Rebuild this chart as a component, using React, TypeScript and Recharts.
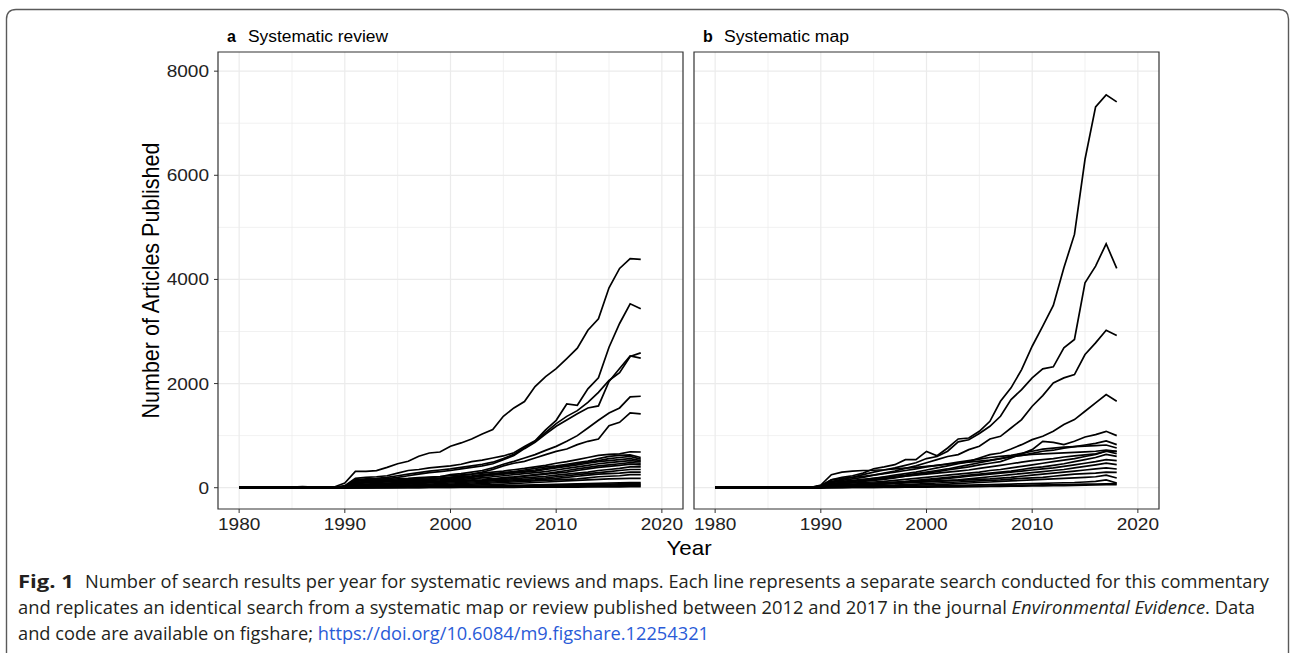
import React from 'react';
import { LineChart, Line, XAxis, YAxis, CartesianGrid, ReferenceArea } from 'recharts';

// ---------- categories ----------
const years = [
  1980, 1981, 1982, 1983, 1984, 1985, 1986, 1987, 1988, 1989,
  1990, 1991, 1992, 1993, 1994, 1995, 1996, 1997, 1998, 1999,
  2000, 2001, 2002, 2003, 2004, 2005, 2006, 2007, 2008, 2009,
  2010, 2011, 2012, 2013, 2014, 2015, 2016, 2017, 2018,
];

const xTicks = [1980, 1990, 2000, 2010, 2020];
const xMinor = [1985, 1995, 2005, 2015];
const yTicks = [0, 2000, 4000, 6000, 8000];
const yMinor = [1000, 3000, 5000, 7000];

// ---------- panel a: systematic reviews ----------
const review01 = [0,0,0,0,2,10,20,12,8,15, 90,314,314,327,391,461,507,603,667,686, 795,860,936,1032,1115,1372,1532,1655,1942,2135, 2288,2480,2679,3025,3244,3840,4211,4398,4385];
const review02 = [0,0,0,0,0,0,0,0,0,0, 40,180,200,210,230,280,330,350,380,400, 420,450,500,530,570,610,670,790,900,1110, 1294,1609,1583,1898,2109,2698,3154,3532,3436];
const review03 = [0,0,0,0,0,0,0,0,0,0, 30,150,170,180,200,230,260,290,320,340, 360,390,420,450,490,560,640,770,890,1060, 1230,1370,1480,1640,1830,2060,2210,2520,2590];
const review04 = [0,0,0,0,0,0,0,0,0,0, 20,130,150,160,175,200,230,260,290,310, 330,360,390,420,460,540,620,750,870,1030, 1180,1300,1420,1530,1570,2040,2290,2530,2490];
const review05 = [0,0,0,0,0,0,0,0,0,0, 10,100,120,130,140,150,165,180,195,210, 250,270,300,330,380,450,506,570,635,717, 794,891,1000,1147,1295,1436,1532,1745,1756];
const review06 = [0,0,0,0,0,0,0,0,0,0, 10,90,100,110,120,130,140,150,165,180, 200,230,260,300,350,420,470,506,570,635, 698,743,827,891,936,1192,1256,1436,1417];
const review07 = [0,0,0,0,0,0,0,0,0,0, 20,120,140,150,160,170,180,195,205,215, 230,245,260,280,300,320,345,370,400,430, 470,500,540,580,620,640,650,690,686];
const review08 = [0,0,0,0,0,0,0,0,0,0, 10,100,110,120,130,140,150,160,170,185, 200,215,230,250,270,290,310,340,370,400, 420,450,480,510,560,600,620,630,580];
const review09 = [0,0,0,0,0,0,0,0,0,0, 15,80,90,100,110,120,130,140,155,170, 185,200,215,235,255,275,300,320,340,370, 400,430,460,490,520,560,580,600,550];
const review10 = [0,0,0,0,0,0,0,0,0,0, 5,60,70,80,90,100,115,125,140,150, 165,180,200,220,240,260,280,300,320,350, 380,410,440,470,500,520,540,560,520];
const review11 = [0,0,0,0,0,0,0,0,0,0, 5,50,60,70,80,90,100,110,120,130, 145,160,175,190,210,230,250,270,290,310, 340,370,400,430,460,480,500,520,500];
const review12 = [0,0,0,0,0,0,0,0,0,0, 5,40,50,60,70,80,90,100,110,120, 130,140,150,200,170,195,210,230,250,270, 300,330,360,390,420,440,460,480,470];
const review13 = [0,0,0,0,0,0,0,0,0,0, 0,30,40,50,60,70,80,90,100,110, 120,130,140,150,165,180,200,220,240,260, 280,300,330,360,390,410,430,450,440];
const review14 = [0,0,0,0,0,0,0,0,0,0, 0,20,30,40,50,60,70,80,90,100, 110,120,130,140,150,160,175,190,205,220, 240,260,280,300,330,350,370,400,400];
const review15 = [0,0,0,0,0,0,0,0,0,0, 0,20,25,30,35,40,50,60,70,80, 90,100,110,120,130,140,150,160,175,190, 210,230,250,270,290,310,330,350,350];
const review16 = [0,0,0,0,0,0,0,0,0,0, 0,10,15,20,25,30,35,40,50,60, 70,80,90,100,110,120,130,140,150,165, 180,200,220,240,260,270,280,300,300];
const review17 = [0,0,0,0,0,0,0,0,0,0, 0,10,10,15,20,25,30,35,40,45, 50,60,70,80,90,100,110,120,130,140, 150,160,170,190,210,220,230,250,250];
const review18 = [0,0,0,0,0,0,0,0,0,0, 0,5,5,10,10,15,20,25,30,35, 40,45,50,55,60,70,80,90,100,110, 120,130,140,150,160,170,175,180,180];
const review19 = [0,0,0,0,0,0,0,0,0,0, 0,5,5,5,10,10,10,15,15,20, 20,25,30,30,35,40,45,50,55,60, 65,70,75,80,85,90,95,100,100];
const review20 = [0,0,0,0,0,0,0,0,0,0, 0,0,5,5,5,5,10,10,10,15, 15,20,20,25,25,30,30,35,40,45, 50,55,60,65,70,70,75,80,80];
const review21 = [0,0,0,0,0,0,0,0,0,0, 0,0,0,5,5,5,5,5,10,10, 10,10,15,15,15,20,20,25,25,30, 30,35,35,40,45,50,55,60,60];
const review22 = [0,0,0,0,0,0,0,0,0,0, 0,0,0,0,0,5,5,5,5,5, 5,10,10,10,10,10,15,15,15,20, 20,20,25,25,30,30,35,40,40];
const review23 = [0,0,0,0,0,0,0,0,0,0, 0,0,0,0,0,0,0,0,5,5, 5,5,5,5,5,5,5,10,10,10, 10,10,10,15,15,15,15,20,20];

// ---------- panel b: systematic maps ----------
const map01 = [0,0,0,0,0,5,10,5,0,5, 40,150,200,230,280,365,400,442,538,538, 698,615,763,936,955,1083,1275,1660,1917,2269, 2717,3102,3500,4224,4865,6308,7314,7545,7410];
const map02 = [0,0,0,0,0,0,0,0,0,0, 30,120,160,200,250,300,340,380,430,480, 560,600,700,880,920,1040,1179,1372,1692,1885, 2109,2282,2321,2686,2846,3936,4256,4685,4211];
const map03 = [0,0,0,0,0,0,0,0,0,0, 30,110,140,170,200,240,280,320,370,420, 480,540,600,635,731,795,936,987,1147,1308, 1564,1769,2013,2109,2173,2558,2782,3025,2923];
const map04 = [0,0,0,0,0,0,0,0,0,0, 20,80,100,120,150,180,210,240,270,300, 340,380,420,460,500,570,635,667,744,827, 923,987,1083,1212,1308,1468,1628,1788,1660];
const map05 = [0,0,0,0,0,0,0,0,0,0, 10,60,80,100,120,140,160,190,220,250, 280,310,340,370,400,440,470,500,570,650, 731,891,871,827,891,974,1019,1083,1000];
const map06 = [0,0,0,0,0,0,0,0,0,0, 50,250,300,320,330,335,345,360,375,390, 410,430,450,470,490,510,530,560,590,620, 660,700,720,760,790,820,850,900,827];
const map07 = [0,0,0,0,0,0,0,0,0,0, 30,150,180,200,220,240,270,300,330,360, 400,430,460,490,520,550,580,600,620,660, 700,740,760,780,790,800,810,820,763];
const map08 = [0,0,0,0,0,0,0,0,0,0, 20,100,120,140,160,180,200,220,240,270, 300,330,360,400,440,480,520,560,600,620, 640,650,660,670,680,690,700,720,699];
const map09 = [0,0,0,0,0,0,0,0,0,0, 10,80,100,120,140,160,180,200,220,240, 260,280,300,320,340,370,400,430,460,490, 520,540,560,590,610,630,650,700,654];
const map10 = [0,0,0,0,0,0,0,0,0,0, 10,60,80,90,100,110,120,140,160,180, 200,220,240,260,280,300,330,350,380,410, 440,470,500,530,560,600,640,700,700];
const map11 = [0,0,0,0,0,0,0,0,0,0, 5,50,60,70,80,90,100,110,120,140, 160,180,200,220,240,260,280,300,320,350, 380,400,430,460,500,540,580,640,603];
const map12 = [0,0,0,0,0,0,0,0,0,0, 5,40,50,60,70,80,90,100,110,120, 140,160,180,200,220,240,260,280,300,320, 340,360,380,410,440,470,500,540,519];
const map13 = [0,0,0,0,0,0,0,0,0,0, 5,30,40,50,60,70,80,90,100,110, 120,130,140,150,170,190,210,230,250,270, 290,310,330,350,380,410,440,470,442];
const map14 = [0,0,0,0,0,0,0,0,0,0, 0,20,30,40,50,60,70,80,90,100, 110,120,130,140,150,160,170,185,200,220, 240,260,280,300,320,340,360,380,359];
const map15 = [0,0,0,0,0,0,0,0,0,0, 0,20,25,30,35,40,45,50,60,70, 80,90,100,110,120,130,140,150,165,180, 190,200,220,240,260,270,280,300,295];
const map16 = [0,0,0,0,0,0,0,0,0,0, 0,10,15,20,25,30,35,40,45,50, 55,60,70,80,90,100,110,120,130,140, 150,160,170,180,190,200,210,240,186];
const map17 = [0,0,0,0,0,0,0,0,0,0, 0,5,5,10,10,15,15,20,20,25, 30,35,40,45,50,55,60,65,70,75, 80,85,90,95,100,110,120,150,90];
const map18 = [0,0,0,0,0,0,0,0,0,0, 0,0,5,5,5,5,10,10,10,15, 15,20,20,25,25,30,30,35,40,45, 50,55,60,60,65,70,70,75,77];
const map19 = [0,0,0,0,0,0,0,0,0,0, 0,0,0,5,5,5,5,5,10,10, 10,15,15,15,20,20,25,25,30,30, 35,35,40,40,45,50,55,60,60];

const reviewSeries = [review01, review02, review03, review04, review05, review06, review07, review08, review09, review10, review11, review12, review13, review14, review15, review16, review17, review18, review19, review20, review21, review22, review23];
const mapSeries = [map01, map02, map03, map04, map05, map06, map07, map08, map09, map10, map11, map12, map13, map14, map15, map16, map17, map18, map19];

function buildTable(series: number[][]) {
  return years.map((yr, i) => {
    const row: Record<string, number> = { year: yr };
    series.forEach((s, k) => { row['s' + k] = s[i]; });
    return row;
  });
}

const reviewData = buildTable(reviewSeries);
const mapData = buildTable(mapSeries);

const X_DOMAIN: [number, number] = [1978, 2022];
const Y_DOMAIN: [number, number] = [-409, 8368];

const AXIS_FONT = '"Liberation Sans", Arial, Helvetica, sans-serif';
const STRETCH = 1.12;

function XTick(props: any) {
  const { x, y, payload } = props;
  return (
    <g transform={`translate(${x},${y}) scale(${STRETCH},1)`}>
      <text x={0} y={0} dy={15} textAnchor="middle" fontSize={17} fontFamily={AXIS_FONT} fill="#222">
        {payload.value}
      </text>
    </g>
  );
}

function YTick(props: any) {
  const { x, y, payload } = props;
  return (
    <g transform={`translate(${x},${y}) scale(${STRETCH},1)`}>
      <text x={0} y={0} dy={6} textAnchor="end" fontSize={17} fontFamily={AXIS_FONT} fill="#222">
        {payload.value}
      </text>
    </g>
  );
}

function Panel(props: { data: any[]; count: number; width: number; margin: any; showY: boolean }) {
  const { data, count, width, margin, showY } = props;
  const keys = Array.from({ length: count }, (_, k) => 's' + k);
  return (
    <LineChart width={width} height={540} data={data} margin={margin}>
      <CartesianGrid horizontalValues={yMinor} verticalValues={xMinor} stroke="#ebebeb" strokeWidth={0.7} />
      <CartesianGrid horizontalValues={yTicks} verticalValues={xTicks} stroke="#ebebeb" strokeWidth={1.2} />
      <XAxis
        type="number"
        dataKey="year"
        domain={X_DOMAIN}
        ticks={xTicks}
        interval={0}
        allowDataOverflow
        axisLine={false}
        tickSize={4}
        tickMargin={2}
        tickLine={{ stroke: '#333', strokeWidth: 1 }}
        tick={<XTick />}
        height={31}
      />
      <YAxis
        type="number"
        domain={Y_DOMAIN}
        ticks={yTicks}
        interval={0}
        allowDataOverflow
        axisLine={false}
        tickSize={4}
        tickMargin={5}
        tickLine={{ stroke: '#333', strokeWidth: 1 }}
        tick={<YTick />}
        width={showY ? 218 : 0}
        hide={!showY}
      />
      {keys.map((k) => (
        <Line
          key={k}
          dataKey={k}
          type="linear"
          stroke="#000"
          strokeWidth={1.7}
          dot={false}
          activeDot={false}
          isAnimationActive={false}
        />
      ))}
      <ReferenceArea
        x1={X_DOMAIN[0]}
        x2={X_DOMAIN[1]}
        y1={Y_DOMAIN[0]}
        y2={Y_DOMAIN[1]}
        fill="none"
        fillOpacity={0}
        stroke="#333"
        strokeWidth={1.2}
        ifOverflow="visible"
      />
    </LineChart>
  );
}

const CAP_FONT = '"Open Sans", "Noto Sans", sans-serif';
const CAP_COLOR = '#231f20';
const CAP_SIZE = 18.5;

export default function App() {
  return (
    <div style={{ position: 'absolute', left: 0, top: 0, width: 1290, height: 653, background: '#fff', overflow: 'hidden' }}>
      <div style={{ position: 'absolute', left: 0, top: 0 }}>
        <Panel data={reviewData} count={reviewSeries.length} width={700} margin={{ top: 52, right: 17, bottom: 0, left: 0 }} showY />
      </div>
      <div style={{ position: 'absolute', left: 680, top: 0 }}>
        <Panel data={mapData} count={mapSeries.length} width={500} margin={{ top: 52, right: 21, bottom: 0, left: 14 }} showY={false} />
      </div>
      <svg width={1290} height={653} style={{ position: 'absolute', left: 0, top: 0, pointerEvents: 'none' }}>
        <path d="M6.5,660 L6.5,19 Q6.5,9.5 16,9.5 L1279,9.5 Q1288.5,9.5 1288.5,19 L1288.5,660" fill="none" stroke="#5a5a5a" strokeWidth={1.4} />

        {/* panel titles */}
        <text x={227} y={42} fontFamily={AXIS_FONT} fontSize={16} fontWeight="bold" fill="#000">a</text>
        <text x={248} y={42} fontFamily={AXIS_FONT} fontSize={16} fill="#000" textLength={140} lengthAdjust="spacingAndGlyphs">Systematic review</text>
        <text x={703} y={42} fontFamily={AXIS_FONT} fontSize={16} fontWeight="bold" fill="#000">b</text>
        <text x={724} y={42} fontFamily={AXIS_FONT} fontSize={16} fill="#000" textLength={125} lengthAdjust="spacingAndGlyphs">Systematic map</text>

        {/* axis titles */}
        <g transform={`translate(689,555) scale(${STRETCH},1)`}>
          <text x={0} y={0} textAnchor="middle" fontFamily={AXIS_FONT} fontSize={20} fill="#000">Year</text>
        </g>
        <g transform={`translate(151,280.5) scale(${STRETCH},1) rotate(-90)`}>
          <text x={0} y={0} dy="0.35em" textAnchor="middle" fontFamily={AXIS_FONT} fontSize={21.5} fill="#000">Number of Articles Published</text>
        </g>

        {/* caption */}
        <text x={18} y={588} fontFamily={CAP_FONT} fontSize={CAP_SIZE} fontWeight="bold" fill={CAP_COLOR} textLength={56} lengthAdjust="spacingAndGlyphs">Fig. 1</text>
        <text x={85} y={588} fontFamily={CAP_FONT} fontSize={CAP_SIZE} fill={CAP_COLOR} textLength={1184} lengthAdjust="spacingAndGlyphs">Number of search results per year for systematic reviews and maps. Each line represents a separate search conducted for this commentary</text>
        <text x={18} y={614} fontFamily={CAP_FONT} fontSize={CAP_SIZE} fill={CAP_COLOR} textLength={1237} lengthAdjust="spacingAndGlyphs">
          and replicates an identical search from a systematic map or review published between 2012 and 2017 in the journal <tspan fontStyle="italic">Environmental Evidence</tspan>. Data
        </text>
        <text x={18} y={640} fontFamily={CAP_FONT} fontSize={CAP_SIZE} fill={CAP_COLOR} textLength={691} lengthAdjust="spacingAndGlyphs">
          and code are available on figshare; <tspan fill="#2a5bd7">https://doi.org/10.6084/m9.figshare.12254321</tspan>
        </text>
      </svg>
    </div>
  );
}
